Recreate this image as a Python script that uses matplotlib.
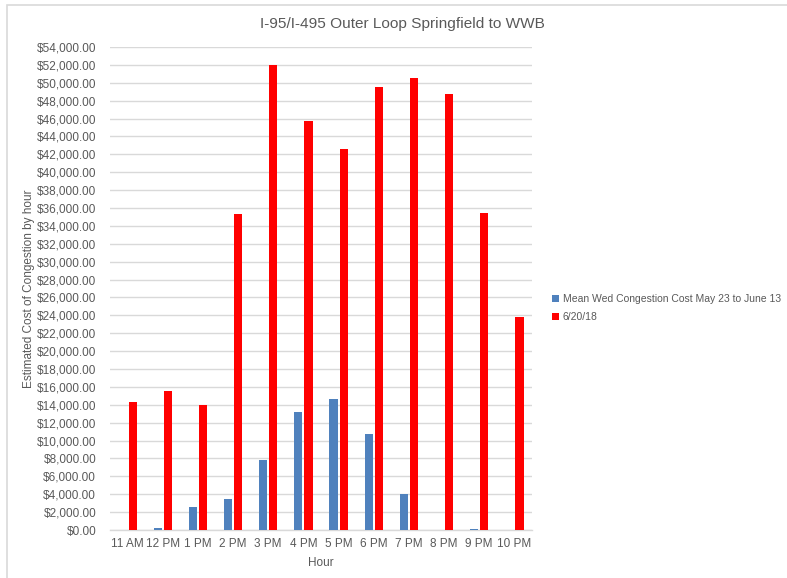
import matplotlib.pyplot as plt
import matplotlib.ticker as mticker
import numpy as np
from matplotlib.patches import Rectangle

hours = ["11 AM", "12 PM", "1 PM", "2 PM", "3 PM", "4 PM",
         "5 PM", "6 PM", "7 PM", "8 PM", "9 PM", "10 PM"]
mean_wed_cost = [0, 190, 2550, 3500, 7860, 13230, 14620, 10740, 4000, 0, 80, 0]
cost_0620 = [14350, 15540, 14000, 35330, 51990, 45730, 42600, 49530,
             50530, 48750, 35440, 23810]

series_labels = ["Mean Wed Congestion Cost May 23 to June 13", "6/20/18"]
series_colors = ["#4f81bd", "#ff0000"]

plt.rcParams['font.family'] = ['Liberation Sans', 'DejaVu Sans']
text_gray = "#595959"
grid_gray = "#d9d9d9"

W, H = 787, 578
fig = plt.figure(figsize=(W / 100, H / 100), dpi=100)

# light chart border (runs off the right/bottom edge)
fig.patches.append(Rectangle((7 / W, -0.1), 1.2, (H - 5) / H + 0.1,
                             transform=fig.transFigure, fill=False,
                             edgecolor=grid_gray, linewidth=1.2))

ax = fig.add_axes([110 / W, 48 / H, 422 / W, 483 / H])

x = np.arange(len(hours))
bar_w = 0.23
off = 0.145
ax.bar(x - off, mean_wed_cost, bar_w, color=series_colors[0], label=series_labels[0], zorder=3)
ax.bar(x + off, cost_0620, bar_w, color=series_colors[1], label=series_labels[1], zorder=3)

ax.set_xlim(-0.5, len(hours) - 0.5)
ax.set_ylim(0, 54000)
ax.yaxis.set_major_locator(mticker.MultipleLocator(2000))
ax.yaxis.set_major_formatter(mticker.FuncFormatter(lambda v, p: f"${v:,.2f}"))
ax.set_xticks(x)
ax.set_xticklabels(hours)

ax.grid(axis='y', color=grid_gray, linewidth=1.0, zorder=0)
ax.set_axisbelow(True)
for side in ['top', 'right', 'left']:
    ax.spines[side].set_visible(False)
ax.spines['bottom'].set_color(grid_gray)
ax.spines['bottom'].set_linewidth(1.0)
ax.tick_params(length=0, labelsize=8.5, colors=text_gray)
ax.tick_params(axis='y', pad=10)
ax.tick_params(axis='x', pad=6)

ax.set_xlabel("Hour", fontsize=8.5, color=text_gray, labelpad=5)
ax.set_ylabel("Estimated Cost of Congestion by hour", fontsize=8.5, color=text_gray, labelpad=1)
fig.text(402 / W, 1 - 24 / H, "I-95/I-495 Outer Loop Springfield to WWB",
         ha='center', va='center', fontsize=11.1, color=text_gray)

fig.legend(loc='upper left', bbox_to_anchor=(548 / W, 1 - 290 / H), frameon=False,
           fontsize=7.5, labelcolor=text_gray, handlelength=0.65, handleheight=0.65,
           handletextpad=0.35, labelspacing=0.8, borderaxespad=0)

fig.savefig("out.png", dpi=100)
